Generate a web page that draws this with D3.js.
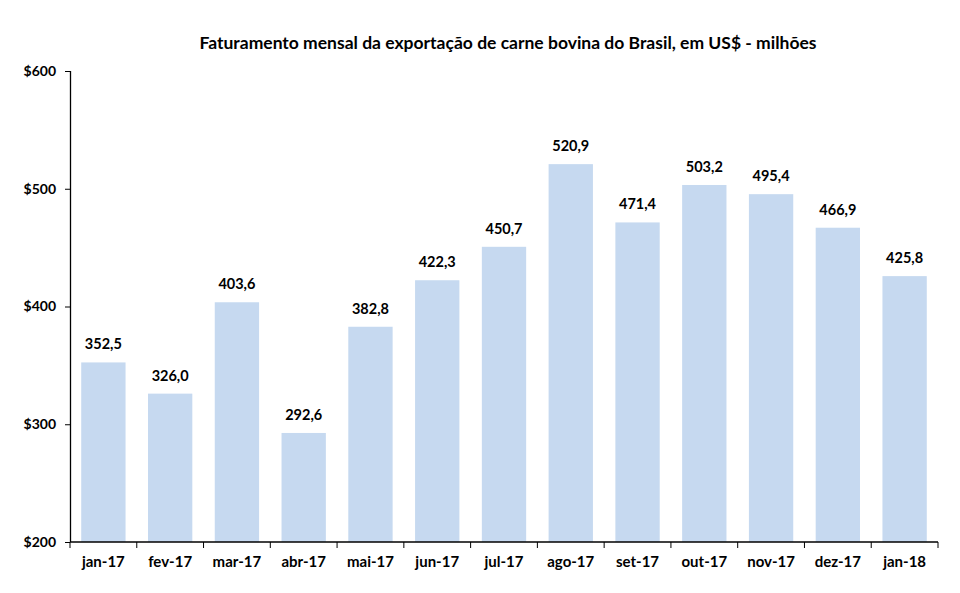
<!DOCTYPE html>
<html>
<head>
<meta charset="utf-8">
<script src="https://cdn.jsdelivr.net/npm/d3@7"></script>
<style>
  body { margin: 0; background: #fff; }
  svg text { font-family: Lato, "Open Sans", sans-serif; font-weight: bold; fill: #000; }
</style>
</head>
<body>
<div id="chart"></div>
<script>
const months = ['jan-17','fev-17','mar-17','abr-17','mai-17','jun-17','jul-17','ago-17','set-17','out-17','nov-17','dez-17','jan-18']
const values = [352.5, 326.0, 403.6, 292.6, 382.8, 422.3, 450.7, 520.9, 471.4, 503.2, 495.4, 466.9, 425.8]
const yTicks = [200, 300, 400, 500, 600]
const title = 'Faturamento mensal da exportação de carne bovina do Brasil, em US$ - milhões'

const width = 960, height = 593
const margin = {top: 71, right: 22, bottom: 51, left: 70}

const svg = d3.select('#chart').append('svg')
.attr('width', width)
.attr('height', height)

const x = d3.scaleBand()
.domain(months)
.range([margin.left, width - margin.right])
.paddingInner(0.336)
.paddingOuter(0.168)

const y = d3.scaleLinear()
.domain([200, 600])
.range([height - margin.bottom, margin.top])

svg.append('text')
.attr('x', 508)
.attr('y', 49)
.attr('text-anchor', 'middle')
.style('font-size', '17.5px')
.text(title)

svg.append('g')
.selectAll('rect')
.data(values)
.enter()
.append('rect')
.attr('x', (d, i) => x(months[i]))
.attr('y', d => y(d))
.attr('width', x.bandwidth())
.attr('height', d => y(200) - y(d))
.style('fill', '#c6d9f0')

svg.append('g')
.selectAll('text')
.data(values)
.enter()
.append('text')
.attr('x', (d, i) => x(months[i]) + x.bandwidth() / 2)
.attr('y', d => y(d) - 13)
.attr('text-anchor', 'middle')
.style('font-size', '14.5px')
.text(d => d3.format('.1f')(d).replace('.', ','))

// y axis
const yAxis = svg.append('g')
.attr('transform', `translate(${margin.left},0)`)
.call(d3.axisLeft(y).tickValues(yTicks).tickSize(5).tickPadding(9).tickFormat(d => '$' + d))

yAxis.select('.domain').attr('d', `M0.5,${y(600)}V${y(200)}`).style('stroke', '#000').style('stroke-width', 1.3)
yAxis.selectAll('.tick line').style('stroke', '#000')
yAxis.selectAll('.tick text').style('font-size', '14px')

// x axis, ticks at category boundaries
const xAxis = svg.append('g')
.attr('transform', `translate(0,${y(200)})`)

xAxis.append('line')
.attr('x1', margin.left)
.attr('x2', width - margin.right)
.style('stroke', '#000')
.style('stroke-width', 1.3)

const step = x.step()
xAxis.selectAll('.bound')
.data(d3.range(months.length + 1))
.enter()
.append('line')
.attr('x1', i => margin.left + i * step)
.attr('x2', i => margin.left + i * step)
.attr('y1', 0)
.attr('y2', 6)
.style('stroke', '#000')

xAxis.selectAll('.cat')
.data(months)
.enter()
.append('text')
.attr('x', d => x(d) + x.bandwidth() / 2)
.attr('y', 25)
.attr('text-anchor', 'middle')
.style('font-size', '15px')
.text(d => d)
</script>
</body>
</html>
